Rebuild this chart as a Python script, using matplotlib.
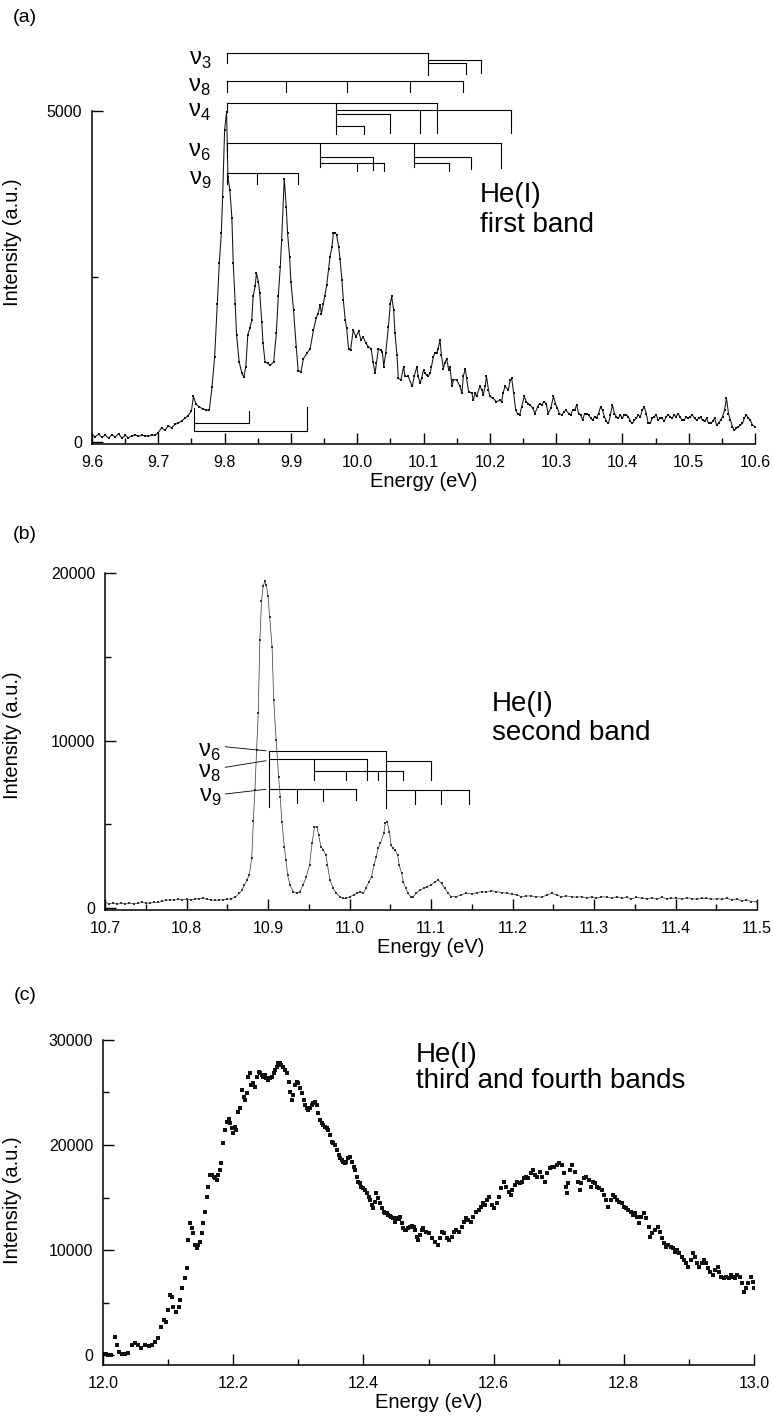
import matplotlib
matplotlib.use("Agg")
import matplotlib.pyplot as plt
from matplotlib.ticker import MultipleLocator, FixedLocator, FormatStrFormatter

plt.rcParams['font.family'] = ['Liberation Sans', 'DejaVu Sans']
plt.rcParams['mathtext.fontset'] = 'custom'
plt.rcParams['mathtext.rm'] = 'Liberation Sans'

# ---------------- panel (a): first band ----------------
energy_a = [
    9.600, 9.605, 9.610, 9.615, 9.620, 9.625, 9.630, 9.635, 9.640, 9.645,
    9.650, 9.655, 9.660, 9.665, 9.670, 9.675, 9.680, 9.685, 9.690, 9.695,
    9.700, 9.705, 9.710, 9.715, 9.720, 9.725, 9.730, 9.735, 9.740, 9.745,
    9.750, 9.753, 9.757, 9.762, 9.767, 9.772, 9.777, 9.781, 9.785, 9.789,
    9.792, 9.795, 9.797, 9.800, 9.803, 9.805, 9.808, 9.811, 9.813, 9.816,
    9.818, 9.822, 9.826, 9.829, 9.832, 9.835, 9.838, 9.841, 9.843, 9.846,
    9.848, 9.851, 9.853, 9.856, 9.858, 9.861, 9.865, 9.869, 9.874, 9.878,
    9.881, 9.884, 9.886, 9.890, 9.893, 9.895, 9.898, 9.900, 9.904, 9.908,
    9.911, 9.915, 9.919, 9.924, 9.929, 9.934, 9.938, 9.941, 9.944, 9.946,
    9.949, 9.951, 9.954, 9.957, 9.959, 9.962, 9.964, 9.967, 9.969, 9.972,
    9.974, 9.977, 9.979, 9.982, 9.984, 9.987, 9.990, 9.994, 9.998, 10.002,
    10.006, 10.009, 10.013, 10.017, 10.021, 10.024, 10.027, 10.029, 10.032, 10.036,
    10.038, 10.040, 10.043, 10.047, 10.050, 10.052, 10.055, 10.057, 10.060, 10.062,
    10.066, 10.070, 10.072, 10.077, 10.083, 10.086, 10.090, 10.092, 10.095, 10.097,
    10.100, 10.102, 10.105, 10.107, 10.110, 10.112, 10.115, 10.117, 10.120, 10.122,
    10.125, 10.127, 10.130, 10.132, 10.135, 10.138, 10.140, 10.143, 10.145, 10.150,
    10.155, 10.158, 10.160, 10.163, 10.165, 10.168, 10.173, 10.175, 10.178, 10.180,
    10.185, 10.188, 10.190, 10.193, 10.195, 10.198, 10.200, 10.205, 10.210, 10.215,
    10.218, 10.220, 10.223, 10.228, 10.231, 10.233, 10.236, 10.239, 10.242, 10.245,
    10.248, 10.252, 10.255, 10.258, 10.261, 10.265, 10.268, 10.272, 10.275, 10.278,
    10.282, 10.285, 10.288, 10.292, 10.296, 10.299, 10.302, 10.305, 10.309, 10.312,
    10.315, 10.319, 10.322, 10.325, 10.328, 10.331, 10.334, 10.337, 10.340, 10.343,
    10.346, 10.349, 10.352, 10.355, 10.358, 10.361, 10.364, 10.367, 10.370, 10.373,
    10.376, 10.379, 10.382, 10.385, 10.388, 10.391, 10.394, 10.397, 10.400, 10.403,
    10.406, 10.409, 10.412, 10.415, 10.418, 10.421, 10.424, 10.427, 10.430, 10.433,
    10.436, 10.439, 10.442, 10.445, 10.448, 10.451, 10.454, 10.457, 10.460, 10.463,
    10.466, 10.469, 10.472, 10.475, 10.478, 10.481, 10.484, 10.487, 10.490, 10.493,
    10.496, 10.499, 10.502, 10.505, 10.509, 10.512, 10.515, 10.518, 10.521, 10.524,
    10.527, 10.530, 10.533, 10.536, 10.539, 10.542, 10.545, 10.548, 10.551, 10.554,
    10.557, 10.560, 10.563, 10.566, 10.569, 10.572, 10.575, 10.578, 10.581, 10.584,
    10.587, 10.590, 10.593, 10.596, 10.600,
]
intensity_a = [
    110, 80, 120, 70, 105, 60, 110, 75, 125, 60,
    100, 65, 95, 110, 85, 100, 95, 85, 110, 100,
    140, 215, 175, 245, 215, 265, 285, 315, 360, 400,
    470, 690, 570, 530, 500, 480, 490, 830, 1290, 2090,
    2700, 3150, 3700, 4710, 4990, 4010, 3800, 3380, 2700, 2090,
    1620, 1210, 1040, 980, 1140, 1620, 1720, 1840, 2200, 2350,
    2550, 2420, 2250, 1820, 1490, 1210, 1190, 1160, 1210, 1640,
    2200, 2650, 3050, 3980, 3550, 3150, 2800, 2420, 1990, 1440,
    1080, 1060, 1260, 1340, 1410, 1690, 1870, 1940, 2070, 1940,
    2090, 2200, 2370, 2620, 2800, 2950, 3150, 3160, 3130, 2950,
    2770, 2450, 2150, 1840, 1720, 1410, 1390, 1690, 1590, 1670,
    1540, 1590, 1490, 1440, 1410, 1210, 1040, 1190, 1410, 1390,
    1360, 1140, 1340, 1740, 2090, 2200, 1990, 1640, 1310, 960,
    940, 1140, 990, 990, 840, 990, 1140, 990, 890, 960,
    1090, 1040, 1010, 990, 1040, 1140, 1290, 1340, 1340, 1410,
    1540, 1310, 1110, 1190, 1260, 1090, 1140, 840, 940, 940,
    840, 740, 990, 1110, 960, 760, 740, 630, 740, 690,
    840, 790, 710, 840, 990, 790, 690, 660, 610, 630,
    610, 740, 840, 790, 940, 960, 740, 480, 430, 410,
    530, 690, 610, 580, 560, 510, 430, 530, 580, 560,
    610, 580, 430, 510, 690, 580, 510, 430, 410, 460,
    480, 430, 410, 480, 480, 560, 430, 410, 330, 430,
    430, 410, 360, 330, 380, 360, 430, 530, 480, 380,
    310, 280, 410, 560, 430, 380, 360, 410, 360, 410,
    410, 380, 310, 280, 330, 360, 410, 380, 480, 530,
    430, 280, 280, 360, 380, 410, 330, 360, 360, 310,
    380, 410, 380, 360, 410, 380, 430, 380, 330, 330,
    380, 360, 380, 410, 360, 330, 360, 380, 330, 310,
    360, 280, 280, 310, 360, 260, 280, 330, 380, 480,
    660, 430, 330, 230, 180, 210, 230, 260, 280, 360,
    410, 360, 330, 260, 230,
]
# vibrational progressions (eV)
nu3_a = [9.803, 10.107]
nu3_sub_a = [10.164, 10.187]
nu8_a = [9.803, 9.892, 9.984, 10.079, 10.159]
nu4_a = [9.803, 10.120]
nu4_sub_a = [9.968, 10.010, 10.0495, 10.094, 10.2315]
nu6_a = [9.803, 10.2165]
nu6_sub1_a = [9.944, 10.000, 10.0243, 10.0405]
nu6_sub2_a = [10.0857, 10.1385, 10.171]
nu9_a = [9.803, 9.849, 9.911]
hot_a = [9.754, 9.837, 9.924]

# ---------------- panel (b): second band ----------------
energy_b = [
    10.700, 10.705, 10.710, 10.715, 10.720, 10.725, 10.730, 10.735, 10.740, 10.745,
    10.750, 10.755, 10.760, 10.765, 10.770, 10.775, 10.780, 10.785, 10.790, 10.795,
    10.800, 10.805, 10.810, 10.815, 10.820, 10.825, 10.830, 10.835, 10.840, 10.845,
    10.850, 10.855, 10.860, 10.865, 10.868, 10.871, 10.874, 10.877, 10.880, 10.882,
    10.884, 10.886, 10.888, 10.890, 10.892, 10.894, 10.896, 10.898, 10.900, 10.902,
    10.905, 10.907, 10.910, 10.913, 10.915, 10.917, 10.920, 10.922, 10.924, 10.927,
    10.931, 10.935, 10.939, 10.943, 10.947, 10.951, 10.954, 10.957, 10.960, 10.962,
    10.965, 10.968, 10.971, 10.973, 10.976, 10.980, 10.984, 10.988, 10.992, 10.996,
    11.001, 11.005, 11.009, 11.013, 11.017, 11.020, 11.024, 11.027, 11.030, 11.033,
    11.035, 11.038, 11.042, 11.044, 11.046, 11.049, 11.051, 11.053, 11.056, 11.059,
    11.061, 11.064, 11.066, 11.069, 11.072, 11.075, 11.078, 11.082, 11.086, 11.091,
    11.095, 11.100, 11.105, 11.109, 11.113, 11.117, 11.121, 11.125, 11.131, 11.137,
    11.143, 11.150, 11.156, 11.162, 11.168, 11.174, 11.180, 11.187, 11.193, 11.199,
    11.205, 11.211, 11.217, 11.223, 11.229, 11.236, 11.242, 11.248, 11.254, 11.260,
    11.266, 11.273, 11.279, 11.285, 11.291, 11.297, 11.303, 11.309, 11.316, 11.322,
    11.328, 11.334, 11.340, 11.346, 11.352, 11.359, 11.365, 11.371, 11.377, 11.383,
    11.389, 11.395, 11.401, 11.408, 11.414, 11.420, 11.426, 11.432, 11.438, 11.444,
    11.451, 11.457, 11.463, 11.469, 11.475, 11.481, 11.487, 11.493, 11.500,
]
intensity_b = [
    350, 250, 300, 230, 280, 250, 300, 260, 280, 330,
    300, 280, 350, 330, 400, 450, 500, 470, 520, 480,
    520, 480, 530, 560, 580, 520, 490, 460, 480, 500,
    520, 560, 650, 880, 1070, 1370, 1650, 1970, 2970, 5170,
    7060, 9430, 11620, 16000, 18300, 19200, 19500, 19300, 18600, 17400,
    15600, 12420, 10030, 7840, 6650, 5150, 3660, 2870, 1970, 1370,
    980, 880, 980, 1370, 1870, 2570, 3860, 4820, 4860, 4360,
    3660, 3460, 3160, 2570, 1670, 1170, 880, 680, 580, 580,
    680, 780, 880, 980, 880, 1170, 1570, 1870, 2570, 3070,
    3560, 3860, 4460, 5060, 5150, 4560, 3760, 3560, 3460, 3160,
    2570, 2070, 1570, 1170, 880, 680, 680, 880, 1075, 1170,
    1270, 1370, 1570, 1670, 1470, 1170, 880, 680, 680, 780,
    880, 850, 920, 980, 940, 1040, 980, 920, 880, 820,
    780, 680, 720, 720, 680, 640, 780, 880, 780, 680,
    720, 680, 640, 680, 580, 680, 580, 680, 640, 580,
    680, 580, 640, 540, 640, 580, 540, 620, 520, 640,
    560, 580, 600, 520, 620, 560, 520, 580, 580, 520,
    560, 520, 580, 480, 520, 440, 480, 380, 380,
]
nu6_b = [10.9016, 11.0448]
nu6_sub_b = [11.0448, 11.100]
nu8_b = [10.9016, 10.9568, 11.0218]
nu8_sub_b = [10.9568, 10.9957, 11.0346, 11.066]
nu9_b = [10.9016, 10.9356, 10.967, 11.008]
nu9_sub_b = [11.0448, 11.0804, 11.1119, 11.1466]

# ---------------- panel (c): third and fourth bands ----------------
energy_c = [
    12.000, 12.004, 12.008, 12.013, 12.018, 12.021, 12.024, 12.029, 12.034, 12.039,
    12.044, 12.049, 12.054, 12.059, 12.065, 12.070, 12.075, 12.080, 12.085, 12.089,
    12.093, 12.097, 12.100, 12.103, 12.106, 12.108, 12.112, 12.116, 12.119, 12.122,
    12.126, 12.129, 12.131, 12.134, 12.136, 12.139, 12.141, 12.144, 12.146, 12.149,
    12.152, 12.154, 12.157, 12.159, 12.162, 12.164, 12.167, 12.170, 12.172, 12.175,
    12.177, 12.180, 12.182, 12.185, 12.187, 12.190, 12.193, 12.195, 12.198, 12.200,
    12.203, 12.205, 12.208, 12.210, 12.213, 12.216, 12.218, 12.221, 12.223, 12.226,
    12.228, 12.231, 12.234, 12.236, 12.239, 12.241, 12.244, 12.246, 12.249, 12.251,
    12.254, 12.257, 12.259, 12.262, 12.264, 12.267, 12.269, 12.272, 12.274, 12.277,
    12.280, 12.282, 12.285, 12.287, 12.290, 12.292, 12.295, 12.298, 12.300, 12.303,
    12.305, 12.308, 12.310, 12.313, 12.315, 12.318, 12.321, 12.323, 12.326, 12.328,
    12.331, 12.333, 12.336, 12.338, 12.341, 12.344, 12.346, 12.349, 12.351, 12.354,
    12.356, 12.359, 12.362, 12.364, 12.367, 12.369, 12.372, 12.374, 12.377, 12.379,
    12.382, 12.385, 12.387, 12.390, 12.392, 12.395, 12.397, 12.400, 12.402, 12.405,
    12.408, 12.410, 12.413, 12.415, 12.418, 12.420, 12.423, 12.426, 12.428, 12.431,
    12.433, 12.436, 12.438, 12.441, 12.443, 12.446, 12.449, 12.451, 12.454, 12.456,
    12.459, 12.461, 12.464, 12.466, 12.469, 12.472, 12.474, 12.477, 12.479, 12.482,
    12.484, 12.487, 12.490, 12.492, 12.496, 12.500, 12.505, 12.510, 12.514, 12.517,
    12.520, 12.524, 12.528, 12.532, 12.536, 12.539, 12.543, 12.547, 12.551, 12.555,
    12.558, 12.561, 12.565, 12.569, 12.573, 12.577, 12.580, 12.583, 12.587, 12.590,
    12.593, 12.597, 12.601, 12.605, 12.609, 12.612, 12.616, 12.619, 12.623, 12.626,
    12.629, 12.633, 12.636, 12.640, 12.643, 12.647, 12.650, 12.653, 12.657, 12.660,
    12.664, 12.667, 12.671, 12.675, 12.679, 12.682, 12.686, 12.689, 12.693, 12.697,
    12.701, 12.705, 12.708, 12.711, 12.712, 12.715, 12.718, 12.721, 12.725, 12.729,
    12.732, 12.735, 12.739, 12.742, 12.746, 12.749, 12.752, 12.756, 12.759, 12.762,
    12.766, 12.770, 12.773, 12.776, 12.780, 12.783, 12.787, 12.790, 12.793, 12.797,
    12.800, 12.803, 12.807, 12.811, 12.814, 12.817, 12.821, 12.824, 12.827, 12.831,
    12.834, 12.838, 12.841, 12.844, 12.848, 12.852, 12.855, 12.858, 12.862, 12.865,
    12.868, 12.872, 12.875, 12.879, 12.882, 12.885, 12.889, 12.893, 12.896, 12.899,
    12.903, 12.906, 12.909, 12.913, 12.916, 12.920, 12.923, 12.926, 12.930, 12.933,
    12.937, 12.940, 12.944, 12.947, 12.950, 12.954, 12.957, 12.961, 12.964, 12.967,
    12.971, 12.974, 12.978, 12.981, 12.985, 12.988, 12.991, 12.995, 12.998, 13.000,
]
intensity_c = [
    95, 50, 0, 0, 1680, 1000, 320, 95, 95, 160,
    950, 1110, 950, 640, 950, 860, 950, 1270, 1590, 2700,
    3330, 3180, 4290, 5720, 5560, 4600, 4130, 4600, 5240, 6350,
    7300, 8260, 10950, 12540, 12070, 11590, 10480, 10160, 10480, 10800,
    11590, 12540, 13650, 15080, 16030, 17150, 17150, 16990, 16830, 16670,
    17150, 17620, 18260, 20160, 21430, 22230, 22450, 22070, 21590, 21110,
    21750, 21430, 23180, 23500, 25240, 24610, 24290, 24920, 26510, 26830,
    25720, 25880, 25560, 26510, 26990, 26830, 26670, 26510, 26670, 26350,
    26190, 26350, 26510, 26830, 27150, 27460, 27780, 27850, 27620, 27460,
    27150, 26830, 26040, 25080, 24290, 24770, 25720, 26040, 25880, 25400,
    24920, 24290, 23810, 23500, 23340, 23500, 23810, 24040, 24130, 23810,
    23020, 22380, 22070, 21910, 21750, 21590, 21430, 20960, 20320, 20160,
    20000, 19530, 19050, 18730, 18570, 18420, 18260, 18420, 18730, 18890,
    18420, 17940, 17620, 16990, 16510, 16350, 16030, 15880, 15720, 15400,
    15080, 14760, 14290, 13970, 14610, 15400, 14920, 14450, 13970, 13650,
    13570, 13490, 13340, 13250, 13180, 13020, 12700, 13020, 12940, 13100,
    12540, 12070, 11910, 11910, 12070, 12220, 12300, 12220, 11910, 11270,
    10950, 11430, 11910, 12070, 11750, 11590, 11110, 10800, 10480, 11110,
    11750, 11600, 11110, 10950, 11270, 11750, 11910, 11750, 12220, 12700,
    13020, 12860, 12700, 13180, 13650, 13810, 14130, 14450, 14290, 14760,
    15080, 14290, 13970, 14450, 15080, 15880, 16510, 16030, 15560, 15240,
    15720, 16190, 16510, 16350, 16430, 16830, 16990, 16830, 17300, 17620,
    17150, 16990, 17460, 16990, 16510, 17300, 17780, 17940, 17940, 18100,
    18260, 18100, 17300, 16030, 15400, 16350, 17620, 18100, 17460, 16510,
    15720, 16350, 16830, 16990, 16670, 16030, 16510, 16350, 16030, 15880,
    15720, 15240, 14760, 14130, 14760, 15240, 15080, 14760, 14610, 14450,
    14130, 13970, 13810, 13650, 13340, 13490, 13180, 12540, 13180, 13490,
    13020, 12220, 11270, 11590, 11910, 12220, 11750, 11110, 10640, 10320,
    10480, 10320, 10160, 9840, 10000, 9680, 9370, 9050, 8730, 8410,
    9050, 9680, 9370, 8730, 8410, 8730, 9050, 8730, 8260, 7940,
    7620, 8100, 8410, 7940, 7460, 7300, 7460, 7380, 7620, 7460,
    7300, 7620, 7460, 6830, 6030, 6350, 6830, 7460, 6990, 6350,
]

W, H = 773, 1416
fig = plt.figure(figsize=(W / 100, H / 100), dpi=100)


def panel(left, right, top, bottom, xlim, ylim, ytop, xmaj, xmin, ymaj, ymin):
    # axes box given in pixels of the final image
    ax = fig.add_axes([left / W, 1 - bottom / H, (right - left) / W, (bottom - top) / H])
    ax.set_xlim(*xlim)
    ax.set_ylim(*ylim)
    for s in ('top', 'right'):
        ax.spines[s].set_visible(False)
    ax.spines['left'].set_bounds(ylim[0], ytop)
    for s in ('left', 'bottom'):
        ax.spines[s].set_linewidth(1.1)
    ax.xaxis.set_major_locator(MultipleLocator(xmaj))
    ax.xaxis.set_minor_locator(MultipleLocator(xmin))
    ax.xaxis.set_major_formatter(FormatStrFormatter('%.1f'))
    ax.yaxis.set_major_locator(FixedLocator(ymaj))
    ax.yaxis.set_minor_locator(FixedLocator(ymin))
    ax.tick_params(which='both', direction='in', width=1.0, labelsize=11.5)
    ax.tick_params(which='major', length=8)
    ax.tick_params(which='minor', length=4.5)
    ax.tick_params(axis='x', pad=8)
    ax.tick_params(axis='y', pad=7)
    ax.set_xlabel('Energy (eV)', fontsize=14.5)
    ax.set_ylabel('Intensity (a.u.)', fontsize=14.5)
    ax.xaxis.set_label_coords(0.5, -28 / (bottom - top))
    ax.yaxis.set_label_coords((22 - left) / (right - left), 0.5)
    return ax


def comb(ax, level, xs, ends, lw=0.8):
    ax.plot([min(xs), max(xs)], [level, level], color='k', lw=lw, clip_on=False)
    for x, e in zip(xs, ends):
        if e != level:
            ax.plot([x, x], [level, e], color='k', lw=lw, clip_on=False)


def vline(ax, x, y0, y1, lw=0.8):
    ax.plot([x, x], [y0, y1], color='k', lw=lw, clip_on=False)


def nu(ax, x, y, n):
    ax.text(x, y, 'ν$_{%s}$' % n, ha='right', va='center', fontsize=17)


# ---- (a) ----
ax_a = panel(92, 755, 40, 444, (9.6, 10.6), (-30, 6073), 5000, 0.1, 0.05, [0, 5000], [2500])
ax_a.plot(energy_a, intensity_a, '-', color='#111111', lw=0.75, marker='s', ms=2.1, mew=0)

comb(ax_a, 5881, nu3_a, [5721, 5544])
comb(ax_a, 5770, [nu3_a[1], nu3_sub_a[1]], [5770, 5579])
comb(ax_a, 5721, [nu3_a[1], nu3_sub_a[0]], [5721, 5559])
comb(ax_a, 5458, nu8_a, [5292] * len(nu8_a))
comb(ax_a, 5116, nu4_a, [4990, 4672])
vline(ax_a, nu4_sub_a[0], 5116, 4648)
comb(ax_a, 5015, [nu4_sub_a[0], nu4_sub_a[3], nu4_sub_a[4]], [5015, 4672, 4672])
comb(ax_a, 4950, [nu4_sub_a[0], nu4_sub_a[2]], [4950, 4672])
comb(ax_a, 4773, [nu4_sub_a[0], nu4_sub_a[1]], [4773, 4648])
comb(ax_a, 4512, nu6_a, [4310, 4144])
vline(ax_a, nu6_sub1_a[0], 4497, 4159)
vline(ax_a, nu6_sub2_a[0], 4497, 4159)
comb(ax_a, 4310, [nu6_sub1_a[0], nu6_sub1_a[2]], [4310, 4109])
comb(ax_a, 4220, [nu6_sub1_a[0], nu6_sub1_a[1], nu6_sub1_a[3]], [4220, 4094, 4094])
comb(ax_a, 4310, [nu6_sub2_a[0], nu6_sub2_a[2]], [4310, 4124])
comb(ax_a, 4210, [nu6_sub2_a[0], nu6_sub2_a[1]], [4210, 4094])
comb(ax_a, 4068, nu9_a, [3893] * 3)
vline(ax_a, hot_a[0], 514, 166)
comb(ax_a, 292, [hot_a[0], hot_a[1]], [292, 473])
comb(ax_a, 166, [hot_a[0], hot_a[2]], [166, 529])

for n, yv in [('3', 5770), ('8', 5363), ('4', 4985), ('6', 4381), ('9', 3958)]:
    nu(ax_a, 9.7795, yv, n)
ax_a.text(10.185, 3625, 'He(I)', fontsize=20, va='baseline')
ax_a.text(10.185, 3172, 'first band', fontsize=20, va='baseline')

# ---- (b) ----
ax_b = panel(105, 757, 560, 910, (10.7, 11.5), (-119, 20776), 20000, 0.1, 0.05,
             [0, 10000, 20000], [5000, 15000])
ax_b.plot(energy_b, intensity_b, '-', color='#333333', lw=0.5, marker='s', ms=1.8, mew=0)

vline(ax_b, nu6_b[0], 9391, 6048)
vline(ax_b, nu6_b[1], 9391, 5952)
comb(ax_b, 9391, nu6_b, [9391, 9391])
comb(ax_b, 8794, nu6_sub_b, [8794, 7642])
comb(ax_b, 8877, nu8_b, [8877, 7642, 7642])
comb(ax_b, 8197, nu8_sub_b, [8197, 7642, 7642, 7642])
comb(ax_b, 7087, nu9_b, [7087, 6286, 6406, 6448])
comb(ax_b, 7045, nu9_sub_b, [7045, 6209, 6209, 6209])
for y0, y1 in [(9625, 9385), (8400, 8794), (6806, 7087)]:
    ax_b.plot([10.8476, 10.8975], [y0, y1], color='k', lw=0.6, clip_on=False)
for n, yv in [('6', 9331), ('8', 8060), ('9', 6645)]:
    nu(ax_b, 10.8423, yv, n)
ax_b.text(11.1748, 11779, 'He(I)', fontsize=20, va='baseline')
ax_b.text(11.1748, 10030, 'second band', fontsize=20, va='baseline')

# ---- (c) ----
ax_c = panel(103, 754, 1035, 1365, (12.0, 13.0), (-952, 30476), 30000, 0.2, 0.1,
             [0, 10000, 20000, 30000], [5000, 15000, 25000])
ax_c.plot(energy_c, intensity_c, 's', color='#111111', ms=2.4, mew=0)
ax_c.text(12.4808, 27934, 'He(I)', fontsize=20, va='baseline')
ax_c.text(12.4808, 25400, 'third and fourth bands', fontsize=20, va='baseline')

# panel letters
for lab, ypx in [('(a)', 18), ('(b)', 535), ('(c)', 995)]:
    fig.text(25 / W, 1 - ypx / H, lab, ha='center', va='center', fontsize=14)

fig.savefig('out.png', dpi=100)
